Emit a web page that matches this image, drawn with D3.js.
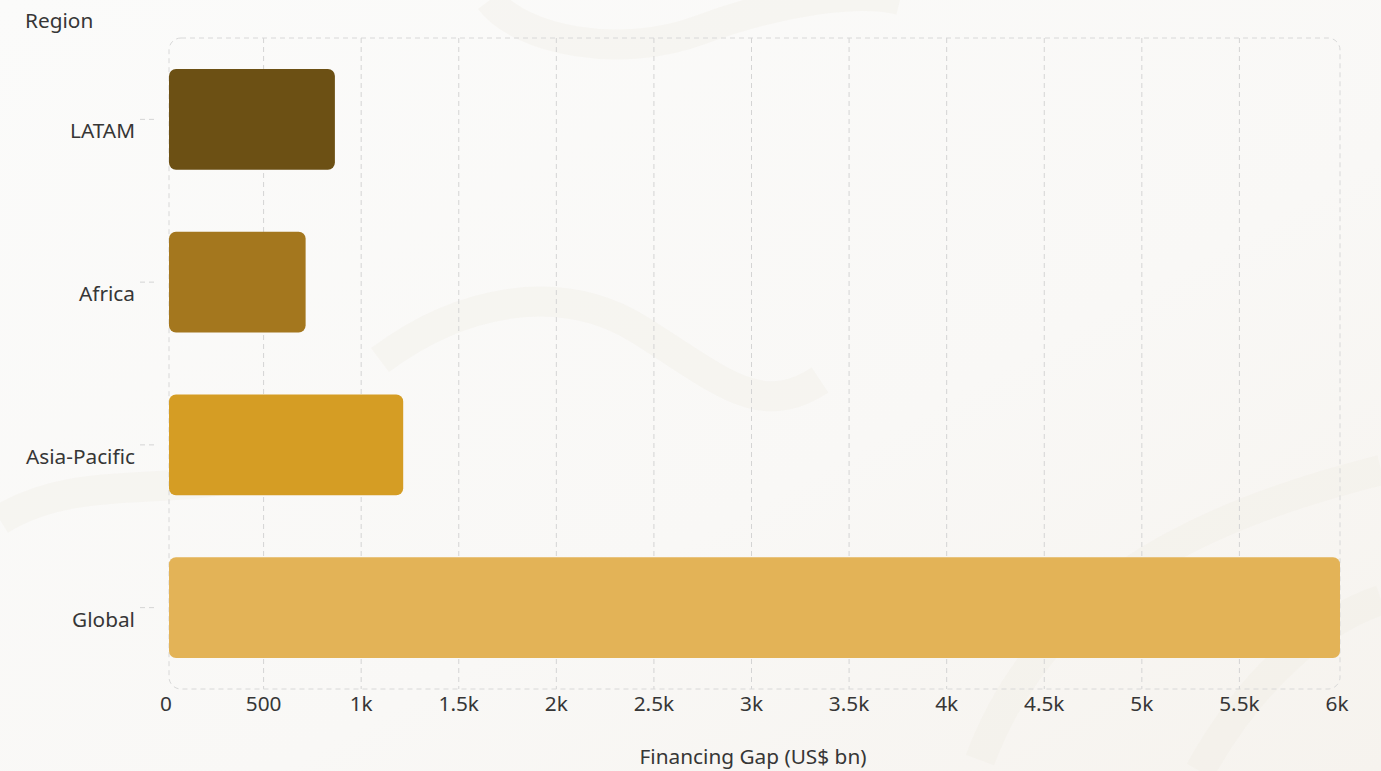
<html>
    <head>
        <title>Financing Gap by Region</title>
        <script src="https://d3js.org/d3.v7.min.js"></script>
        <style>
            body { margin: 0; background: #f8f7f4; }
            text { font-family: "Noto Sans", "Open Sans", sans-serif; fill: #363636; }
        </style>
    </head>
    <body>
        <svg id="chart" width="1381" height="771"></svg>

        <script>
            // data
            const regions = ["LATAM", "Africa", "Asia-Pacific", "Global"];
            const gapValues = [850, 700, 1200, 6000];
            const barColors = ["#6c5014", "#a4771e", "#d59d24", "#e3b357"];
            const xTicks = [0, 500, 1000, 1500, 2000, 2500, 3000, 3500, 4000, 4500, 5000, 5500, 6000];
            const xTickLabels = ["0", "500", "1k", "1.5k", "2k", "2.5k", "3k", "3.5k", "4k", "4.5k", "5k", "5.5k", "6k"];

            const svg = d3.select("#chart");
            const width = +svg.attr("width");
            const height = +svg.attr("height");
            const margin = {top: 38, right: 41, bottom: 82, left: 169};
            const plotW = width - margin.left - margin.right;
            const plotH = height - margin.top - margin.bottom;
            const fontSize = "20.8px";

            // background, soft marble feel
            const defs = svg.append("defs");
            const bgGrad = defs.append("linearGradient").attr("id", "bg")
                .attr("x1", 0).attr("y1", 0).attr("x2", 1).attr("y2", 1);
            bgGrad.append("stop").attr("offset", "0%").attr("stop-color", "#fbfbfa");
            bgGrad.append("stop").attr("offset", "60%").attr("stop-color", "#f9f8f6");
            bgGrad.append("stop").attr("offset", "100%").attr("stop-color", "#f6f3ee");
            svg.append("rect").attr("width", width).attr("height", height).attr("fill", "url(#bg)");

            const swirls = [
                "M490,0 C520,40 620,60 700,30 S860,-10 900,0",
                "M380,360 C460,300 560,280 640,330 S760,420 820,380",
                "M980,760 C1040,600 1180,520 1381,470",
                "M1200,771 C1250,680 1320,620 1381,600",
                "M0,520 C80,470 180,500 260,470"
            ];
            svg.append("g").selectAll("path").data(swirls).join("path")
                .attr("d", d => d)
                .attr("fill", "none")
                .attr("stroke", "#f0ebe1")
                .attr("stroke-width", 30)
                .attr("opacity", 0.3);

            const x = d3.scaleLinear()
                .domain([0, 6000])
                .range([margin.left, margin.left + plotW]);

            const y = d3.scaleBand()
                .domain(regions)
                .range([margin.top, margin.top + plotH])
                .paddingInner(0.38)
                .paddingOuter(0.19);

            // gridlines (axis sits a few px left of the bars)
            const gridShift = -3;
            svg.append("g").selectAll("line.grid")
                .data(xTicks.filter(t => t > 0 && t < 6000))
                .join("line")
                .attr("class", "grid")
                .attr("x1", d => x(d) + gridShift)
                .attr("x2", d => x(d) + gridShift)
                .attr("y1", margin.top)
                .attr("y2", margin.top + plotH)
                .attr("stroke", "#d4d4d4")
                .attr("stroke-width", 1)
                .attr("stroke-dasharray", "5,4");

            // plot border
            svg.append("rect")
                .attr("x", margin.left)
                .attr("y", margin.top)
                .attr("width", plotW)
                .attr("height", plotH)
                .attr("rx", 12)
                .attr("fill", "none")
                .attr("stroke", "#d8d8d8")
                .attr("stroke-width", 1)
                .attr("stroke-dasharray", "5,4");

            // bars
            svg.append("g").selectAll("rect.bar")
                .data(regions)
                .join("rect")
                .attr("class", "bar")
                .attr("x", x(0))
                .attr("y", d => y(d))
                .attr("width", (d, i) => x(gapValues[i]) - x(0))
                .attr("height", y.bandwidth())
                .attr("rx", 7)
                .attr("fill", (d, i) => barColors[i]);

            // x tick labels
            svg.append("g").selectAll("text.xtick")
                .data(xTicks)
                .join("text")
                .attr("class", "xtick")
                .attr("x", d => x(d) + gridShift)
                .attr("y", margin.top + plotH + 22)
                .attr("text-anchor", "middle")
                .style("font-size", fontSize)
                .text((d, i) => xTickLabels[i]);

            // y ticks and labels
            const yAxis = svg.append("g");
            yAxis.selectAll("line")
                .data(regions)
                .join("line")
                .attr("x1", margin.left - 29)
                .attr("x2", margin.left - 14)
                .attr("y1", d => y(d) + y.bandwidth() / 2)
                .attr("y2", d => y(d) + y.bandwidth() / 2)
                .attr("stroke", "#d4d4d4")
                .attr("stroke-dasharray", "5,4");

            yAxis.selectAll("text")
                .data(regions)
                .join("text")
                .attr("x", margin.left - 34)
                .attr("y", d => y(d) + y.bandwidth() / 2 + 19)
                .attr("text-anchor", "end")
                .style("font-size", fontSize)
                .text(d => d);

            // axis titles
            svg.append("text")
                .attr("x", 25)
                .attr("y", 28)
                .style("font-size", fontSize)
                .text("Region");

            svg.append("text")
                .attr("x", 753)
                .attr("y", 764)
                .attr("text-anchor", "middle")
                .style("font-size", fontSize)
                .text("Financing Gap (US$ bn)");
        </script>
    </body>
</html>
